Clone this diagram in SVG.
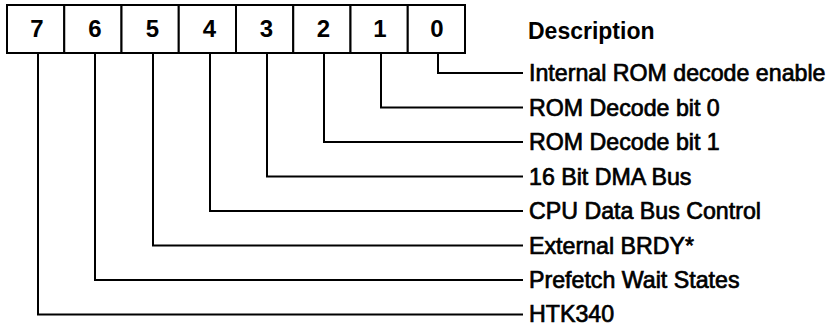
<svg xmlns="http://www.w3.org/2000/svg" width="833" height="326" viewBox="0 0 833 326">
<style>
.cell{fill:#fff;stroke:#000;stroke-width:2}
.digit{font-family:"Liberation Sans",Arial,sans-serif;font-weight:bold;font-size:24px;text-anchor:middle;fill:#000}
.lbl{font-family:"Liberation Sans",Arial,sans-serif;font-size:23.2px;fill:#000;stroke:#000;stroke-width:0.7}
.hdr{font-family:"Liberation Sans",Arial,sans-serif;font-weight:bold;font-size:23px;fill:#000}
.conn{fill:none;stroke:#000;stroke-width:2}
</style>
<rect width="833" height="326" fill="#fff"/>
<g id="register">
<g id="bit7"><rect class="cell" x="7" y="5" width="57.25" height="48"/><text class="digit" x="37" y="37">7</text></g>
<g id="bit6"><rect class="cell" x="64.25" y="5" width="57.25" height="48"/><text class="digit" x="95" y="37">6</text></g>
<g id="bit5"><rect class="cell" x="121.5" y="5" width="57.25" height="48"/><text class="digit" x="152.5" y="37">5</text></g>
<g id="bit4"><rect class="cell" x="178.75" y="5" width="57.25" height="48"/><text class="digit" x="209.5" y="37">4</text></g>
<g id="bit3"><rect class="cell" x="236" y="5" width="57.25" height="48"/><text class="digit" x="266.5" y="37">3</text></g>
<g id="bit2"><rect class="cell" x="293.25" y="5" width="57.25" height="48"/><text class="digit" x="323.5" y="37">2</text></g>
<g id="bit1"><rect class="cell" x="350.5" y="5" width="57.25" height="48"/><text class="digit" x="380" y="37">1</text></g>
<g id="bit0"><rect class="cell" x="407.75" y="5" width="57.25" height="48"/><text class="digit" x="437" y="37">0</text></g>
</g>
<g id="connectors">
<path class="conn" d="M438 53V73H523"/>
<path class="conn" d="M381 53V107.5H523"/>
<path class="conn" d="M324 53V142H523"/>
<path class="conn" d="M267 53V176.5H523"/>
<path class="conn" d="M210 53V211H523"/>
<path class="conn" d="M153 53V245.5H523"/>
<path class="conn" d="M95 53V280H523"/>
<path class="conn" d="M38 53V314.5H523"/>
</g>
<g id="labels">
<text class="hdr" x="528" y="39">Description</text>
<text class="lbl" x="529" y="81">Internal ROM decode enable</text>
<text class="lbl" x="529" y="115.5">ROM Decode bit 0</text>
<text class="lbl" x="529" y="150">ROM Decode bit 1</text>
<text class="lbl" x="529" y="184.5">16 Bit DMA Bus</text>
<text class="lbl" x="529" y="219">CPU Data Bus Control</text>
<text class="lbl" x="529" y="253.5">External BRDY*</text>
<text class="lbl" x="529" y="288">Prefetch Wait States</text>
<text class="lbl" x="529" y="322">HTK340</text>
</g>
</svg>
